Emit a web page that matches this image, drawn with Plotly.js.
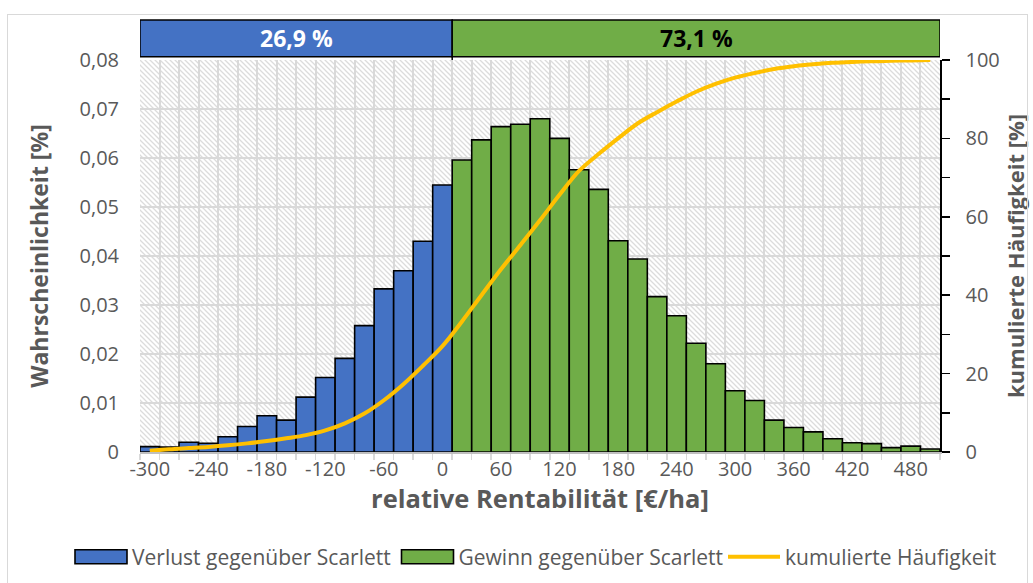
<!DOCTYPE html>
<html>
<head>
<meta charset="utf-8">
<script src="https://cdn.plot.ly/plotly-3.0.1.min.js"></script>
<style>
  body { margin: 0; background: #ffffff; }
  #chart { width: 1033px; height: 583px; position: absolute; left: 0; top: 0; }
  #frame { position: absolute; left: 7px; top: 14px; width: 1019px; height: 640px;
           border: 1px solid #d9d9d9; pointer-events: none; }
</style>
</head>
<body>
<div id="chart"></div>
<div id="frame"></div>
<script>
// ---- data ----
const lossClasses = [-300, -280, -260, -240, -220, -200, -180, -160, -140, -120, -100, -80, -60, -40, -20, 0];
const lossProb    = [0.0011, 0.0010, 0.0020, 0.0018, 0.0031, 0.0052, 0.0074, 0.0065, 0.0112, 0.0152, 0.0191, 0.0258, 0.0333, 0.0370, 0.0430, 0.0545];

const gainClasses = [20, 40, 60, 80, 100, 120, 140, 160, 180, 200, 220, 240, 260, 280, 300, 320, 340, 360, 380, 400, 420, 440, 460, 480, 500];
const gainProb    = [0.0596, 0.0637, 0.0664, 0.0669, 0.0680, 0.0640, 0.0576, 0.0536, 0.0431, 0.0394, 0.0317, 0.0278, 0.0222, 0.0180, 0.0125, 0.0105, 0.0065, 0.0050, 0.0041, 0.0027, 0.0019, 0.0017, 0.0009, 0.0012, 0.0006];

const cumClasses  = lossClasses.concat(gainClasses);
const cumValues   = [0.3, 0.7, 1.0, 1.3, 1.7, 2.2, 2.8, 3.5, 4.3, 5.5, 7.3, 9.8, 13.2, 17.3, 22.0, 27.0,
                     33.3, 40.0, 46.6, 52.8, 59.1, 65.6, 71.7, 76.0, 80.0, 83.8, 86.7, 89.4, 91.9, 93.9, 95.5,
                     96.7, 97.7, 98.4, 98.9, 99.3, 99.5, 99.7, 99.8, 99.9, 100.0];

const xTickValues = [-300, -240, -180, -120, -60, 0, 60, 120, 180, 240, 300, 360, 420, 480];
const xTickLabels = ['-300', '-240', '-180', '-120', '-60', '0', '60', '120', '180', '240', '300', '360', '420', '480'];

const seriesNames = ['Verlust gegenüber Scarlett', 'Gewinn gegenüber Scarlett', 'kumulierte Häufigkeit'];
const shareLabels = ['26,9 %', '73,1 %'];
const binWidth = 20;

// ---- styles ----
const BLUE = '#4472C4', GREEN = '#70AD47', GOLD = '#FFC000', GRAY_TXT = '#595959', GRID = '#d9d9d9';
const FONT = 'Open Sans, sans-serif';

const lossLeft  = lossClasses[0] - binWidth / 2;
const split     = lossClasses[lossClasses.length - 1] + binWidth / 2;
const gainRight = gainClasses[gainClasses.length - 1] + binWidth / 2;

const data = [
  { type: 'bar', name: seriesNames[0], x: lossClasses, y: lossProb, width: binWidth,
    marker: { color: BLUE, line: { color: '#000000', width: 1.6 } } },
  { type: 'bar', name: seriesNames[1], x: gainClasses, y: gainProb, width: binWidth,
    marker: { color: GREEN, line: { color: '#000000', width: 1.6 } } },
  { type: 'scatter', mode: 'lines', name: seriesNames[2], x: cumClasses, y: cumValues, yaxis: 'y2',
    line: { color: GOLD, width: 4, shape: 'spline', smoothing: 1 } }
];

const bTop = 1.102, bBot = 1.008;
const LEGEND_LEFT = 70, LEGEND_STEP = 326.5;
const layout = {
  width: 1033, height: 583,
  margin: { l: 140, r: 93, t: 60, b: 131, autoexpand: false },
  paper_bgcolor: 'rgba(0,0,0,0)', plot_bgcolor: 'rgba(0,0,0,0)',
  separators: ',.',
  font: { family: FONT, color: GRAY_TXT, size: 20 },
  barmode: 'overlay', bargap: 0,
  showlegend: true,
  legend: { orientation: 'h', xref: 'paper', yref: 'paper', x: -0.09, xanchor: 'left',
            y: -0.268, yanchor: 'middle', font: { size: 21, color: GRAY_TXT },
            itemwidth: 52, entrywidth: 230, entrywidthmode: 'pixels', traceorder: 'normal' },
  xaxis: {
    range: [lossLeft, gainRight], tickmode: 'array', tickvals: xTickValues, ticktext: xTickLabels,
    showgrid: false, automargin: false,
    ticks: '', ticklabelstandoff: -2, tickfont: { size: 20, color: GRAY_TXT },
    showline: true, linecolor: '#bfbfbf', linewidth: 1.5, zeroline: false,
    minor: { tick0: lossLeft, dtick: binWidth, showgrid: true, gridcolor: GRID, gridwidth: 2,
             ticks: 'outside', ticklen: 6, tickcolor: GRID, tickwidth: 1.5 },
    title: { text: '<b>relative Rentabilität [€/ha]</b>', font: { size: 25.5, color: GRAY_TXT }, standoff: 0 }
  },
  yaxis: {
    range: [0, 0.08], dtick: 0.01, showgrid: true, gridcolor: GRID, gridwidth: 2, automargin: false,
    zeroline: false, showline: false, ticks: '', ticklabelstandoff: 20,
    tickfont: { size: 20, color: GRAY_TXT },
    title: { text: '<b>Wahrscheinlichkeit [%]</b>', font: { size: 23, color: GRAY_TXT }, standoff: 24 }
  },
  yaxis2: {
    overlaying: 'y', side: 'right', range: [0, 100], dtick: 20, showgrid: false, zeroline: false,
    automargin: false,
    showline: true, linecolor: '#000000', linewidth: 1.5,
    ticks: 'outside', ticklen: 8, tickcolor: '#000000', tickwidth: 1.5, ticklabelstandoff: 12,
    minor: { dtick: 10, ticks: 'outside', ticklen: 8, tickcolor: '#000000', tickwidth: 1.5 },
    tickfont: { size: 20, color: GRAY_TXT },
    title: { text: '<b>kumulierte Häufigkeit [%]</b>', font: { size: 22, color: GRAY_TXT }, standoff: 10 }
  },
  shapes: [
    { type: 'line', xref: 'x', yref: 'paper', x0: split, x1: split, y0: 0, y1: bTop,
      line: { color: '#000000', width: 1.5 }, layer: 'below' },
    { type: 'rect', xref: 'x', yref: 'paper', x0: lossLeft, x1: split, y0: bBot, y1: bTop,
      fillcolor: BLUE, line: { color: '#000000', width: 1.5 }, layer: 'above' },
    { type: 'rect', xref: 'x', yref: 'paper', x0: split, x1: gainRight, y0: bBot, y1: bTop,
      fillcolor: GREEN, line: { color: '#000000', width: 1.5 }, layer: 'above' }
  ],
  annotations: [
    { xref: 'x', yref: 'paper', x: (lossLeft + split) / 2, y: (bTop + bBot) / 2, yanchor: 'middle', xanchor: 'center',
      text: '<b>' + shareLabels[0] + '</b>', showarrow: false, font: { size: 23, color: '#ffffff', family: FONT } },
    { xref: 'x', yref: 'paper', x: (split + gainRight) / 2, y: (bTop + bBot) / 2, yanchor: 'middle', xanchor: 'center',
      text: '<b>' + shareLabels[1] + '</b>', showarrow: false, font: { size: 23, color: '#000000', family: FONT } }
  ]
};

function parseTranslate(el) {
  const t = el.getAttribute('transform') || '';
  const m = t.match(/translate\(\s*([-\d.e]+)(?:[ ,]+([-\d.e]+))?\s*\)/);
  return m ? [parseFloat(m[1]), parseFloat(m[2] || 0)] : [0, 0];
}

Plotly.newPlot('chart', data, layout, { staticPlot: true, displayModeBar: false }).then(function (gd) {
  const NS = 'http://www.w3.org/2000/svg';
  const svg = gd.querySelector('svg.main-svg');
  let defs = svg.querySelector('defs');
  if (!defs) { defs = document.createElementNS(NS, 'defs'); svg.insertBefore(defs, svg.firstChild); }
  const pat = document.createElementNS(NS, 'pattern');
  pat.setAttribute('id', 'hatchbg');
  pat.setAttribute('patternUnits', 'userSpaceOnUse');
  pat.setAttribute('width', '5'); pat.setAttribute('height', '5');
  const p = document.createElementNS(NS, 'path');
  p.setAttribute('d', 'M-1,-1 L6,6 M-1,4 L1,6 M4,-1 L6,1');
  p.setAttribute('stroke', '#dcdcdc'); p.setAttribute('stroke-width', '1.3');
  pat.appendChild(p);
  defs.appendChild(pat);
  const s = gd._fullLayout._size;
  const r = document.createElementNS(NS, 'rect');
  r.setAttribute('x', s.l); r.setAttribute('y', s.t);
  r.setAttribute('width', s.w); r.setAttribute('height', s.h);
  r.setAttribute('fill', 'url(#hatchbg)');
  const bg = svg.querySelector('.bglayer');
  if (bg) svg.insertBefore(r, bg.nextSibling); else svg.insertBefore(r, defs.nextSibling);

  // legend: wide bar swatches, one row with the reference's spacing
  gd.querySelectorAll('.legend .legendpoints path.legendundefined, .legend .legendbar path').forEach(function (el) {
    el.setAttribute('d', 'M26,7H-26V-7H26Z');
  });
  const lg = gd.querySelector('g.legend');
  if (lg) {
    const pos = parseTranslate(lg);
    lg.setAttribute('transform', 'translate(' + LEGEND_LEFT + ',' + pos[1] + ')');
    lg.querySelectorAll('[clip-path]').forEach(function (el) { el.removeAttribute('clip-path'); });
    const items = lg.querySelectorAll('g.traces');
    const y0 = items.length ? parseTranslate(items[0])[1] : 0;
    items.forEach(function (it, i) {
      it.setAttribute('transform', 'translate(' + (i * LEGEND_STEP) + ',' + y0 + ')');
    });
  }
});
</script>
</body>
</html>
